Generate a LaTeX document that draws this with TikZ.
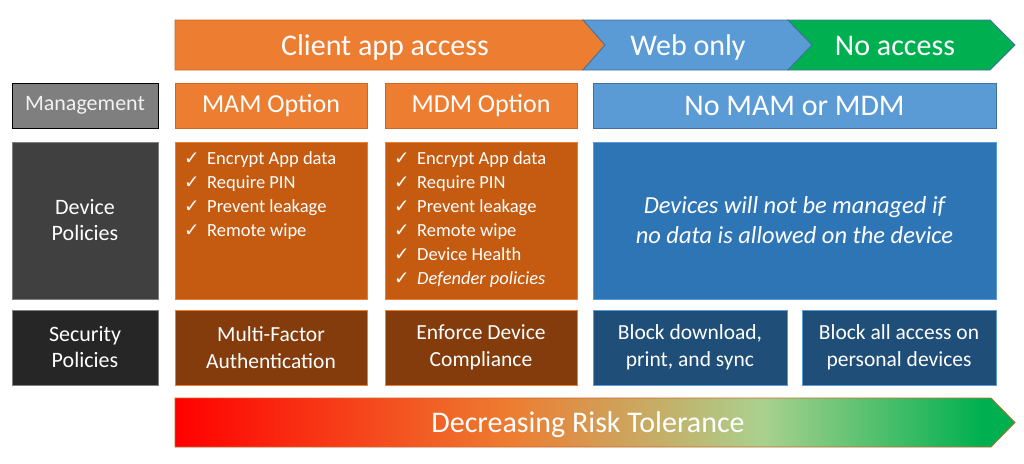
\documentclass[tikz,border=0pt]{standalone}
\usepackage{fontspec}
\setmainfont{Carlito}
\newfontfamily\symfont{DejaVu Sans}
\usetikzlibrary{positioning}

\definecolor{accorange}{HTML}{ED7D31}
\definecolor{listorange}{HTML}{C55A11}
\definecolor{secbrown}{HTML}{843C0C}
\definecolor{accblue}{HTML}{5B9BD5}
\definecolor{midblue}{HTML}{2E75B6}
\definecolor{darkblue}{HTML}{1F4E79}
\definecolor{accgreen}{HTML}{00B050}
\definecolor{mgmtgray}{HTML}{7F7F7F}
\definecolor{devgray}{HTML}{404040}
\definecolor{secgray}{HTML}{262626}
\definecolor{riskred}{HTML}{FF0000}
\definecolor{risklight}{HTML}{A9D18E}
\definecolor{blueline}{HTML}{41719C}
\definecolor{orangeline}{HTML}{C9672A}

\pgfdeclarehorizontalshading{riskshade}{100bp}{color(0bp)=(riskred); color(25bp)=(riskred); color(45bp)=(accorange); color(60bp)=(risklight); color(73bp)=(accgreen); color(100bp)=(accgreen)}

\newcommand{\chk}{\makebox[23pt][l]{\symfont ✓}}

\begin{document}
\begin{tikzpicture}[x=1pt,y=-1pt,
	box/.style={draw,line width=0.8pt,inner sep=0pt,text=white,align=center},
	head/.style={text=white,anchor=base,font=\fontsize{30}{36}\selectfont},
	side/.style={box,minimum width=146,font=\fontsize{22}{26}\selectfont},
	listtext/.style={text=white,align=left,anchor=north west,inner sep=0pt,font=\fontsize{18.5}{24}\selectfont}]
	\useasboundingbox (0,0) rectangle (1024,463);

	% access chevrons
	\draw[fill=accorange,draw=orangeline,line width=0.8pt] (175,20) -- (583,20) -- (605,45) -- (583,70) -- (175,70) -- cycle;
	\draw[fill=accblue,draw=blueline,line width=0.8pt] (583,20) -- (788,20) -- (812,45) -- (788,70) -- (583,70) -- (605,45) -- cycle;
	\draw[fill=accgreen,draw=blueline,line width=0.8pt] (788,20) -- (990,20) -- (1015,45) -- (990,70) -- (788,70) -- (812,45) -- cycle;
	\node[head] (client) at (385,55) {Client app access};
	\node[head] (web) at (688,55) {Web only};
	\node[head] (noacc) at (895,55) {No access};

	% left column
	\node[side,fill=mgmtgray,draw=black,minimum height=45,text=white!95!black] (mgmt) at (85,105.5) {Management};
	\node[side,fill=devgray,draw=mgmtgray,minimum height=157] (devpol) at (85,220.5) {Device\\Policies};
	\node[side,fill=secgray,draw=mgmtgray,minimum height=75] (secpol) at (85,347.5) {Security\\Policies};

	% management row
	\node[box,fill=accorange,draw=orangeline,minimum width=192,minimum height=45,font=\fontsize{26}{30}\selectfont] (mam) at (271,105.5) {MAM Option};
	\node[box,fill=accorange,draw=orangeline,minimum width=192,minimum height=45,font=\fontsize{26}{30}\selectfont] (mdm) at (481,105.5) {MDM Option};
	\node[box,fill=accblue,draw=blueline,minimum width=403,minimum height=45,font=\fontsize{30}{36}\selectfont] (nomdm) at (794.5,105.5) {No MAM or MDM};

	% device policies row
	\node[box,fill=listorange,draw=accorange,minimum width=192,minimum height=157] (mambox) at (271,220.5) {};
	\node[box,fill=listorange,draw=accorange,minimum width=192,minimum height=157] (mdmbox) at (481,220.5) {};
	\node[box,fill=midblue,draw=accblue,minimum width=403,minimum height=157,font=\fontsize{24.5}{30}\selectfont\itshape] (nodev) at (794.5,220.5) {Devices will not be managed if\\no data is allowed on the device};
	\node[listtext] (mamlist) at (184,151) {\chk Encrypt App data\\\chk Require PIN\\\chk Prevent leakage\\\chk Remote wipe};
	\node[listtext] (mdmlist) at (394,151) {\chk Encrypt App data\\\chk Require PIN\\\chk Prevent leakage\\\chk Remote wipe\\\chk Device Health\\\chk\textit{Defender policies}};

	% security policies row
	\foreach \n/\cx/\w/\col/\edge/\txt in {mfa/271/192/secbrown/accorange/{Multi-Factor\\Authentication},
		comply/481/192/secbrown/accorange/{Enforce Device\\Compliance},
		blockdl/690/194/darkblue/accblue/{Block download,\\print, and sync},
		blockall/899/194/darkblue/accblue/{Block all access on\\personal devices}}{
		\node[box,fill=\col,draw=\edge,minimum width=\w,minimum height=75,font=\fontsize{21.5}{27}\selectfont] (\n) at (\cx,347.5) {\txt};
	}

	% risk arrow
	\shade[shading=riskshade] (175,398) -- (991,398) -- (1015,422.5) -- (991,447) -- (175,447) -- cycle;
	\draw[orangeline,line width=0.8pt] (175,398) -- (991,398) -- (1015,422.5) -- (991,447) -- (175,447) -- cycle;
	\node[head] (risk) at (588,432) {Decreasing Risk Tolerance};
\end{tikzpicture}
\end{document}
